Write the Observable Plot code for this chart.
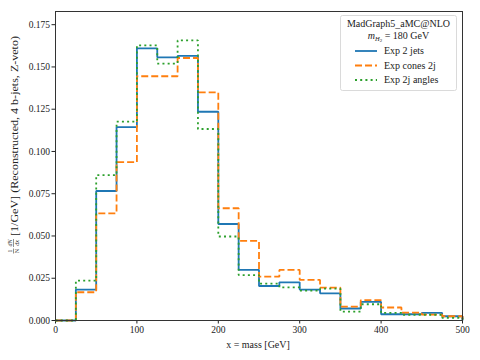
<!DOCTYPE html>
<html>
<head>
<meta charset="utf-8">
<script src="https://cdn.jsdelivr.net/npm/d3@7"></script>
<script src="https://cdn.jsdelivr.net/npm/@observablehq/plot@0.6"></script>
<style>
  html, body { margin: 0; padding: 0; background: #fff; }
  #chart { width: 480px; height: 360px; }
</style>
</head>
<body>
<div id="chart"></div>
<script>
// Bin lower edges (GeV), bin width 25
const binEdges = [0, 25, 50, 75, 100, 125, 150, 175, 200, 225, 250, 275, 300, 325, 350, 375, 400, 425, 450, 475];
const upperEdge = 500;
const exp2jets = [0, 0.0183, 0.0766, 0.1144, 0.1610, 0.1557, 0.1565, 0.1235, 0.0571, 0.0300, 0.0204, 0.0226, 0.0183, 0.0161, 0.0071, 0.0110, 0.0037, 0.0037, 0.0045, 0.0025];
const expCones2j = [0, 0.0167, 0.0634, 0.0937, 0.1445, 0.1445, 0.1553, 0.1350, 0.0664, 0.0471, 0.0259, 0.0299, 0.0240, 0.0194, 0.0082, 0.0120, 0.0077, 0.0047, 0.0035, 0.0025];
const exp2jAngles = [0, 0.0236, 0.0860, 0.1176, 0.1628, 0.1520, 0.1657, 0.1133, 0.0497, 0.0269, 0.0218, 0.0196, 0.0177, 0.0188, 0.0053, 0.0096, 0.0045, 0.0034, 0.0034, 0.0016];
const seriesNames = ["Exp 2 jets", "Exp cones 2j", "Exp 2j angles"];
const xTicks = [0, 100, 200, 300, 400, 500];
const yTicks = [0, 0.025, 0.05, 0.075, 0.1, 0.125, 0.15, 0.175];
const legendTitle1 = "MadGraph5_aMC@NLO";
const colors = ["#1f77b4", "#ff7f0e", "#2ca02c"];
const dashes = [null, "7,3", "2,3.2"];

function stepTable(vals) {
  const rows = binEdges.map((e, i) => ({x: e, y: vals[i]}));
  rows.push({x: upperEdge, y: vals[vals.length - 1]});
  rows.push({x: upperEdge, y: 0});
  return rows;
}
const allSeries = [exp2jets, expCones2j, exp2jAngles];

const font = "'Liberation Serif', 'DejaVu Serif', serif";

const chart = Plot.plot({
  width: 480,
  height: 360,
  marginLeft: 55,
  marginRight: 18,
  marginTop: 11,
  marginBottom: 40,
  style: {fontFamily: font, fontSize: "9.5px", color: "#222", background: "#fff"},
  x: {domain: [0, 500], ticks: xTicks, tickSize: 3.5, tickPadding: 2, label: null},
  y: {domain: [0, 0.1828], ticks: yTicks, tickFormat: d3.format(".3f"), tickSize: 3.5, tickPadding: 2, label: null},
  marks: [
    ...allSeries.map((vals, i) => Plot.line(stepTable(vals), {
      x: "x", y: "y", curve: "step-after",
      stroke: colors[i], strokeWidth: 1.8,
      strokeDasharray: dashes[i] || undefined,
      strokeLinejoin: "miter", strokeLinecap: "butt"
    })),
    Plot.frame({stroke: "#333", strokeWidth: 1})
  ]
});

document.getElementById("chart").appendChild(chart);

const svg = d3.select(chart);
// x label
svg.append("text").attr("x", 258).attr("y", 348).attr("text-anchor", "middle")
  .attr("font-family", font).attr("font-size", 10).attr("fill", "#222").text("x = mass [GeV]");

// y label with fraction
const yl = svg.append("g").attr("transform", "translate(15,0) rotate(-90)")
  .attr("font-family", font).attr("fill", "#222");
const fracX = -251;
yl.append("text").attr("x", fracX).attr("y", -3).attr("font-size", 6).attr("text-anchor", "middle").text("1");
yl.append("text").attr("x", fracX).attr("y", 4).attr("font-size", 6).attr("text-anchor", "middle").text("N");
yl.append("line").attr("x1", fracX - 2.5).attr("x2", fracX + 2.5).attr("y1", -1.5).attr("y2", -1.5).attr("stroke", "#222").attr("stroke-width", 0.5);
yl.append("text").attr("x", fracX + 8).attr("y", -3).attr("font-size", 6).attr("font-style", "italic").attr("text-anchor", "middle").text("dN");
yl.append("text").attr("x", fracX + 8).attr("y", 4).attr("font-size", 6).attr("font-style", "italic").attr("text-anchor", "middle").text("dx");
yl.append("line").attr("x1", fracX + 4).attr("x2", fracX + 12).attr("y1", -1.5).attr("y2", -1.5).attr("stroke", "#222").attr("stroke-width", 0.5);
yl.append("text").attr("x", fracX + 15).attr("y", 2.5).attr("font-size", 10).attr("text-anchor", "start")
  .attr("textLength", 200).attr("lengthAdjust", "spacingAndGlyphs")
  .text("[1/GeV] (Reconstructed, 4 b-jets, Z-veto)");

// legend
const lg = svg.append("g").attr("font-family", font).attr("fill", "#222");
lg.append("rect").attr("x", 340.5).attr("y", 15.5).attr("width", 116).attr("height", 75).attr("rx", 2)
  .attr("fill", "#fff").attr("fill-opacity", 0.85).attr("stroke", "#d0d0d0").attr("stroke-width", 0.8);
lg.append("text").attr("x", 398.5).attr("y", 27).attr("text-anchor", "middle").attr("font-size", 10).text(legendTitle1);
const t2 = lg.append("text").attr("x", 398.5).attr("y", 38.5).attr("text-anchor", "middle").attr("font-size", 10);
t2.append("tspan").attr("font-style", "italic").text("m");
t2.append("tspan").attr("font-style", "italic").attr("font-size", 6.5).attr("dy", 2.5).text("H");
t2.append("tspan").attr("font-size", 5).attr("dy", 1.2).text("2");
t2.append("tspan").attr("dy", -3.7).text(" = 180 GeV");
seriesNames.forEach((name, i) => {
  const yy = 51 + i * 14.5;
  lg.append("line").attr("x1", 355).attr("x2", 377).attr("y1", yy).attr("y2", yy)
    .attr("stroke", colors[i]).attr("stroke-width", 1.8).attr("stroke-dasharray", dashes[i]);
  lg.append("text").attr("x", 384).attr("y", yy + 3.3).attr("font-size", 10).attr("text-anchor", "start").text(name);
});
</script>
</body>
</html>
